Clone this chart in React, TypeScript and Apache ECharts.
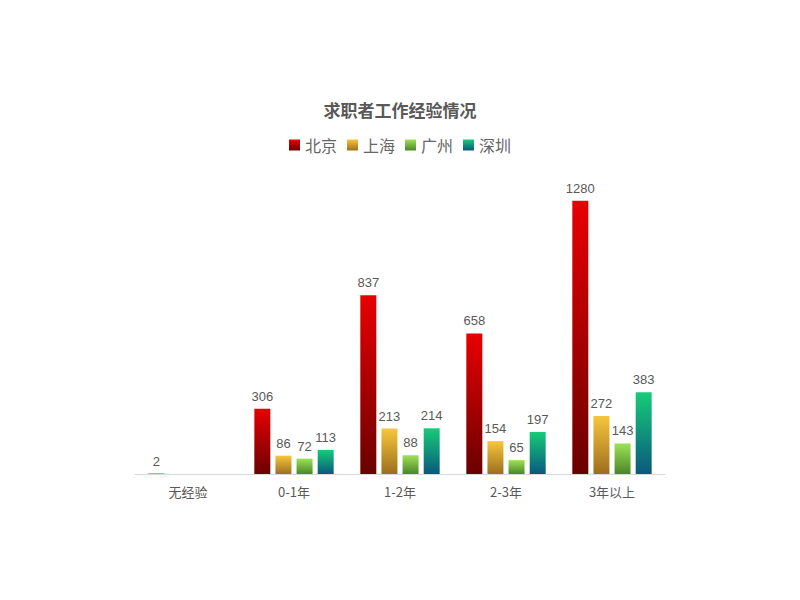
import React, { useEffect, useRef } from "react";
import * as echarts from "echarts";

const categories = ["无经验", "0-1年", "1-2年", "2-3年", "3年以上"];
const seriesNames = ["北京", "上海", "广州", "深圳"];
const beijing = [2, 306, 837, 658, 1280];
const shanghai = [null, 86, 213, 154, 272];
const guangzhou = [null, 72, 88, 65, 143];
const shenzhen = [null, 113, 214, 197, 383];

const gradients: [string, string][] = [
  ["#e80000", "#6a0000"],
  ["#f8c63c", "#9c6e1e"],
  ["#9ee256", "#4a8628"],
  ["#17cc78", "#09587e"],
];

export default function App() {
  const ref = useRef<HTMLDivElement>(null);
  useEffect(() => {
    if (!ref.current) return;
    const chart = echarts.init(ref.current, null, { renderer: "svg" });
    const values = [beijing, shanghai, guangzhou, shenzhen];
    chart.setOption({
      animation: false,
      backgroundColor: "#ffffff",
      title: {
        text: "求职者工作经验情况",
        left: "center",
        top: 96,
        textStyle: {
          fontSize: 17,
          fontWeight: "bold",
          color: "#595959",
          fontFamily: "Noto Sans CJK SC",
        },
      },
      legend: {
        top: 132,
        left: "center",
        itemWidth: 11,
        itemHeight: 11,
        itemGap: 10,
        icon: "rect",
        textStyle: { fontSize: 16, color: "#666666", fontFamily: "Noto Sans CJK SC" },
        data: seriesNames,
      },
      grid: { left: 135, right: 135, top: 175, bottom: 126 },
      xAxis: {
        type: "category",
        data: categories,
        axisLine: { lineStyle: { color: "#d9d9d9" } },
        axisTick: { show: false },
        axisLabel: {
          color: "#595959",
          fontSize: 13,
          margin: 11,
          fontFamily: "Noto Sans CJK SC",
        },
      },
      yAxis: {
        type: "value",
        min: 0,
        max: 1400,
        show: false,
        splitLine: { show: false },
      },
      series: seriesNames.map((name, i) => ({
        name,
        type: "bar",
        data: values[i],
        barWidth: 16,
        barGap: "32%",
        itemStyle: {
          color: new echarts.graphic.LinearGradient(0, 0, 0, 1, [
            { offset: 0, color: gradients[i][0] },
            { offset: 1, color: gradients[i][1] },
          ]),
        },
        label: {
          show: true,
          position: "top",
          distance: 6,
          color: "#595959",
          fontSize: 13,
          fontFamily: "Liberation Sans",
        },
      })),
    });
    return () => chart.dispose();
  }, []);
  return (
    <div
      ref={ref}
      style={{ position: "absolute", left: 0, top: 0, width: 800, height: 600 }}
    />
  );
}
